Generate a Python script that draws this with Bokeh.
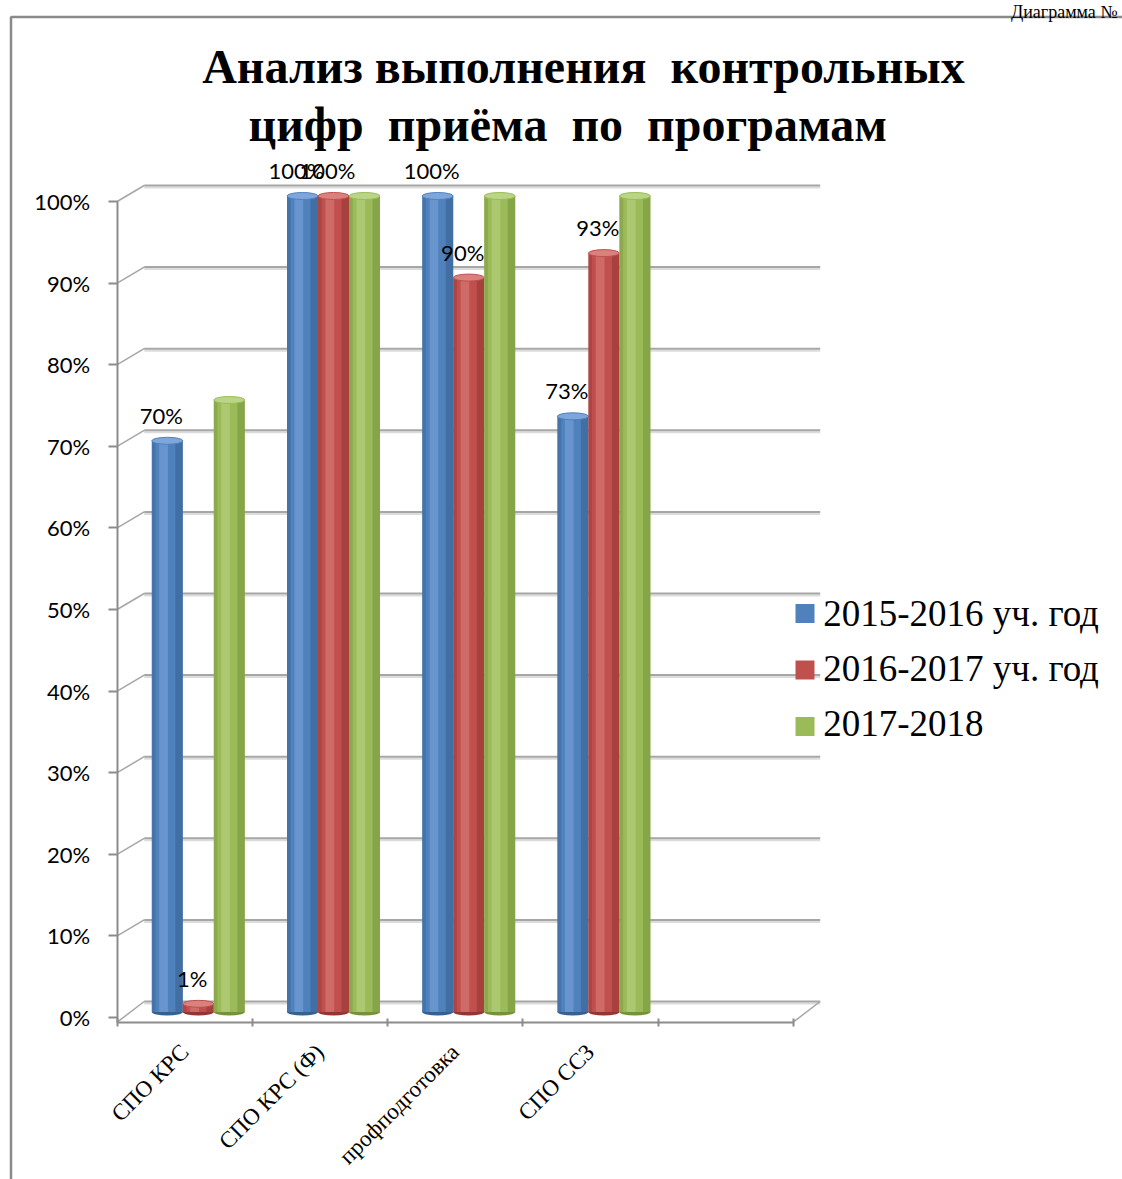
from math import pi
from bokeh.plotting import figure
from bokeh.models import Range1d, FixedTicker
from bokeh.core.properties import value
from bokeh.embed import file_html
from bokeh.resources import INLINE

# ---------------- data ----------------
categories = ["СПО КРС", "СПО КРС (Ф)", "профподготовка", "СПО ССЗ"]
series_names = ["2015-2016 уч. год", "2016-2017 уч. год", "2017-2018"]
values_2015_2016 = [70, 100, 100, 73]
values_2016_2017 = [1, 100, 90, 93]
values_2017_2018 = [75, 100, 100, 100]
labels_2015_2016 = ["70%", "100%", "100%", "73%"]
labels_2016_2017 = ["1%", "100%", "90%", "93%"]
y_ticks = [0, 10, 20, 30, 40, 50, 60, 70, 80, 90, 100]
y_tick_labels = ["0%", "10%", "20%", "30%", "40%", "50%", "60%", "70%", "80%", "90%", "100%"]
title_lines = ["Анализ выполнения\u00a0 контрольных", "цифр\u00a0 приёма\u00a0 по\u00a0 програмам"]
corner_text = "Диаграмма №"
N_SLOTS = 5

series = [
    (series_names[0], values_2015_2016, labels_2015_2016, ("#4f81bd", "#7ea6da", "#36618f")),
    (series_names[1], values_2016_2017, labels_2016_2017, ("#c0504d", "#da817e", "#923533")),
    (series_names[2], values_2017_2018, None, ("#9bbb59", "#bad585", "#75923b")),
]

# ---------------- geometry (page pixels) ----------------
PAGE = 0
W, H = 1122, 1179
X0_PX, SLOT_PX = 116.7, 135.2
Y0_PX, PCT_PX = 1017.0, 8.16
BASE_FIX = 0.36  # rendered baseline offset (fraction of font size)


def X(px):
    return (px - X0_PX) / SLOT_PX


def Y(px):
    return (Y0_PX - px) / PCT_PX


def DX(px):
    return px / SLOT_PX


def DY(px):
    return px / PCT_PX


def YB(px, fs):
    return Y(px - BASE_FIX * fs)


p = figure(width=W, height=H,
           x_range=Range1d(X(PAGE), X(PAGE + W)),
           y_range=Range1d(Y(PAGE + H), Y(PAGE)),
           output_backend="svg", toolbar_location=None,
           min_border=0, min_border_left=0, min_border_right=0,
           min_border_top=0, min_border_bottom=0,
           outline_line_color=None, background_fill_color="white",
           border_fill_color="white")
p.grid.visible = False

GRID = "#a6a6a6"
AXIS = "#8c8c8c"
FLOOR = Y(1021.7)
BACK_DX = DX(27)
BACK_DY = DY(16)

# outer frame of the chart box
p.line(x=[X(PAGE + W), X(10.5), X(10.5)], y=[Y(16.5), Y(16.5), Y(PAGE + H)],
       line_color="#8a8a8a", line_width=2.5)

# back wall gridlines
gy = [t + BACK_DY for t in y_ticks]
p.segment(x0=[BACK_DX] * len(gy), y0=[g - DY(2) for g in gy],
          x1=[N_SLOTS + BACK_DX] * len(gy), y1=[g - DY(2) for g in gy],
          line_color="#dcdcdc", line_width=2)
p.segment(x0=[BACK_DX] * len(gy), y0=gy, x1=[N_SLOTS + BACK_DX] * len(gy), y1=gy,
          line_color=GRID, line_width=2)
dx0 = [0] * (len(y_ticks) - 1) + [0, N_SLOTS]
dy0 = [t for t in y_ticks[1:]] + [FLOOR, FLOOR]
dx1 = [BACK_DX] * (len(y_ticks) - 1) + [BACK_DX, N_SLOTS + BACK_DX]
dy1 = [t + BACK_DY for t in y_ticks[1:]] + [BACK_DY, BACK_DY]
p.segment(x0=dx0, y0=dy0, x1=dx1, y1=dy1, line_color=GRID, line_width=1.5)

# bars
BAR_W = DX(31)
DEPTH_SHIFT = DX(13.5)
TOP_LIFT = DY(9)
CAP_H = DY(7)
BOTTOM_VIS = Y(1015)
LABEL_FS = 22
for s, (name, vals, labs, (base, light, dark)) in enumerate(series):
    xc = [i + 0.5 + DEPTH_SHIFT + (s - 1) * BAR_W for i in range(len(vals))]
    tops = [v + TOP_LIFT - CAP_H / 2 for v in vals]
    bot = BOTTOM_VIS + CAP_H / 2
    p.ellipse(x=xc, y=[bot] * len(xc), width=BAR_W, height=CAP_H,
              fill_color=dark, line_color=None)
    p.vbar(x=xc, width=BAR_W, bottom=bot, top=tops, fill_color=base, line_color=None)
    p.vbar(x=[x - BAR_W * 0.12 for x in xc], width=BAR_W * 0.28, bottom=bot, top=tops,
           fill_color=light, fill_alpha=0.55, line_color=None)
    p.vbar(x=[x + BAR_W * 0.38 for x in xc], width=BAR_W * 0.24, bottom=bot, top=tops,
           fill_color=dark, fill_alpha=0.55, line_color=None)
    p.vbar(x=[x - BAR_W * 0.44 for x in xc], width=BAR_W * 0.12, bottom=bot, top=tops,
           fill_color=dark, fill_alpha=0.4, line_color=None)
    p.ellipse(x=xc, y=tops, width=BAR_W, height=CAP_H,
              fill_color=light, line_color=base, line_width=1)
    if labs:
        p.text(x=[x - DX(6) for x in xc],
               y=[v + TOP_LIFT + DY(14) + DY(BASE_FIX * LABEL_FS) for v in vals], text=labs,
               text_font=value("Lato"), text_font_size=f"{LABEL_FS}px", text_color="black",
               text_align="center", text_baseline="alphabetic")

# axes
yax = p.yaxis[0]
yax.fixed_location = 0
yax.ticker = FixedTicker(ticks=y_ticks, minor_ticks=[])
yax.major_label_overrides = {t: l for t, l in zip(y_ticks, y_tick_labels)}
yax.bounds = (FLOOR, 100)
yax.axis_line_color = AXIS
yax.axis_line_width = 2
yax.major_tick_line_color = AXIS
yax.major_tick_line_width = 2
yax.major_tick_out = 9
yax.major_tick_in = 0
yax.minor_tick_line_color = None
yax.major_label_standoff = 18
yax.major_label_text_font = "Lato"
yax.major_label_text_font_size = "22px"
yax.major_label_text_color = "black"

xax = p.xaxis[0]
xax.fixed_location = FLOOR
centers = [i + 0.5 for i in range(len(categories))]
xax.ticker = FixedTicker(ticks=centers, minor_ticks=list(range(N_SLOTS + 1)))
xax.major_label_overrides = {c: n for c, n in zip(centers, categories)}
xax.bounds = (0, N_SLOTS)
xax.axis_line_color = AXIS
xax.axis_line_width = 2
xax.major_tick_line_color = None
xax.major_tick_out = 0
xax.major_tick_in = 0
xax.minor_tick_line_color = AXIS
xax.minor_tick_line_width = 2
xax.minor_tick_in = 4
xax.minor_tick_out = 4
xax.major_label_orientation = pi / 4
xax.major_label_standoff = 22
xax.major_label_text_font = "Liberation Serif"
xax.major_label_text_font_size = "23px"
xax.major_label_text_color = "black"

# title
TITLE_FS = 48
p.text(x=[X(201.7), X(248)], y=[YB(83.3, TITLE_FS), YB(141.5, TITLE_FS)], text=title_lines,
       text_font=value("Liberation Serif"), text_font_style="bold",
       text_font_size=f"{TITLE_FS}px",
       text_color="black", text_align="left", text_baseline="alphabetic")

# corner caption
CORNER_FS = 18
p.text(x=[X(1117)], y=[YB(17.5, CORNER_FS)], text=[corner_text],
       text_font=value("Liberation Serif"), text_font_size=f"{CORNER_FS}px",
       text_color="black", text_align="right", text_baseline="alphabetic")

# legend
LEG_FS = 37
for i, (name, vals, labs, (base, light, dark)) in enumerate(series):
    p.rect(x=[X(804.5)], y=[Y(613 + 56.5 * i)], width=DX(19), height=DY(19),
           fill_color=base, line_color=None)
    p.text(x=[X(822.7)], y=[YB(626.5 + 55 * i, LEG_FS)], text=[name],
           text_font=value("Liberation Serif"), text_font_size=f"{LEG_FS}px",
           text_color="black", text_align="left", text_baseline="alphabetic")

open("out.html", "w").write(file_html(p, INLINE))
